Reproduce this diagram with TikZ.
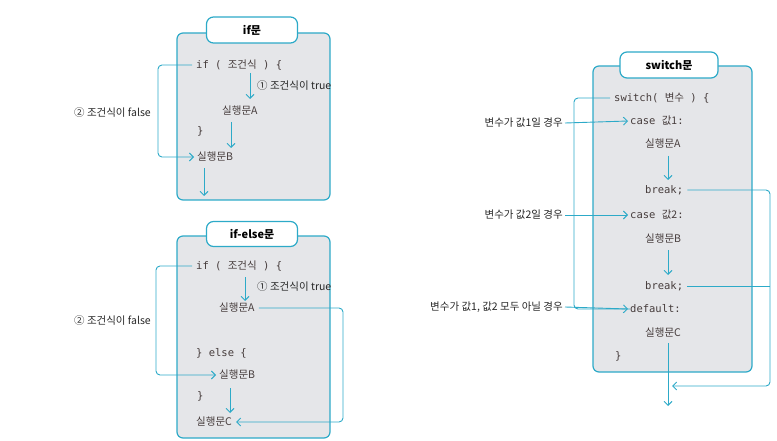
\documentclass[tikz,border=0pt]{standalone}
\usepackage{fontspec}
\setmainfont{Noto Sans CJK KR}
\newfontfamily\codefont{DejaVu Sans Mono}
\newfontfamily\krfont{Noto Sans CJK KR}
\usetikzlibrary{arrows.meta,positioning,calc}
\definecolor{flowColor}{RGB}{45,170,200}
\definecolor{boxColor}{RGB}{229,230,233}
\definecolor{codeColor}{RGB}{70,60,60}
\newcommand{\kr}[1]{{\krfont #1}}
\tikzset{panel/.style={draw=flowColor, fill=boxColor, line width=1.2pt, rounded corners=6pt}}
\tikzset{tab/.style={draw=flowColor, fill=white, line width=1.2pt, rounded corners=7pt, font=\bfseries\fontsize{11}{13}\selectfont}}
\tikzset{code/.style={anchor=west, inner sep=0pt, text=codeColor, font=\codefont\fontsize{10.5}{12}\selectfont}}
\tikzset{label/.style={inner sep=0pt, text=black!85, font=\fontsize{10.5}{12}\selectfont}}
\tikzstyle{flow} = [draw=flowColor, line width=0.9pt, rounded corners=4pt, -{Straight Barb[length=4pt,width=8pt]}]
\tikzstyle{line} = [draw=flowColor, line width=0.9pt, rounded corners=4pt]

\begin{document}
\begin{tikzpicture}[x=1pt,y=-1pt]
	\useasboundingbox (0,0) rectangle (777,441);

	% if
	\draw [panel] (177,33) rectangle (330,200);
	\node (iftab) [tab, minimum width=91pt, minimum height=26pt] at (252,30) {if문};
	\node (ifcond) [code] at (196,65) {if ( \kr{조건식} ) \{};
	\node (iftrue) [label, anchor=west] at (257,86) {① 조건식이 true};
	\node (ifA) [code] at (222,111) {\kr{실행문A}};
	\node (ifclose) [code] at (197,131) {\}};
	\node (ifB) [code] at (197,157) {\kr{실행문B}};
	\node (iffalse) [label, anchor=east] at (151,113) {② 조건식이 false};
	\coordinate (ifout) at (204,196);

	\draw [flow] (250,73) -- (250,99);
	\draw [flow] (231,122) -- (231,148);
	\draw [flow] (204,168) -- (ifout);
	\draw [flow] ([xshift=-4pt]ifcond.west) -- (158,65) -- (158,157) -- ([xshift=-3pt]ifB.west);

	% if-else
	\draw [panel] (177,236) rectangle (330,438);
	\node (elsetab) [tab, minimum width=91pt, minimum height=25pt] at (252,234) {if-else문};
	\node (elsecond) [code] at (196,266) {if ( \kr{조건식} ) \{};
	\node (elsetrue) [label, anchor=west] at (257,287) {① 조건식이 true};
	\node (elseA) [code] at (219,308) {\kr{실행문A}};
	\node (elseword) [code] at (196,353) {\} else \{};
	\node (elseB) [code] at (219,375) {\kr{실행문B}};
	\node (elseclose) [code] at (197,396) {\}};
	\node (elseC) [code] at (196,422) {\kr{실행문C}};
	\node (elsefalse) [label, anchor=east] at (151,321) {② 조건식이 false};

	\draw [flow] (245,277) -- (245,301);
	\draw [flow] (230,388) -- (230,413);
	\draw [flow] ([xshift=-4pt]elsecond.west) -- (156,266) -- (156,375) -- ([xshift=-3pt]elseB.west);
	\draw [flow] ([xshift=4pt]elseA.east) -- (343,308) -- (343,422) -- ([xshift=4pt]elseC.east);

	% switch
	\draw [panel] (593,66) rectangle (752,372);
	\node (swtab) [tab, minimum width=98pt, minimum height=26pt] at (669,65) {switch문};
	\node (swhead) [code] at (614,98) {switch( \kr{변수} ) \{};
	\node (case1) [code] at (630,121) {case \kr{값1}:};
	\node (swA) [code] at (645,144) {\kr{실행문A}};
	\node (brk1) [code] at (645,190) {break;};
	\node (case2) [code] at (630,215) {case \kr{값2}:};
	\node (swB) [code] at (645,239) {\kr{실행문B}};
	\node (brk2) [code] at (645,286) {break;};
	\node (dflt) [code] at (630,309) {default:};
	\node (swC) [code] at (645,333) {\kr{실행문C}};
	\node (swclose) [code] at (615,356) {\}};
	\node (val1) [label, anchor=east] at (563,123) {변수가 값1일 경우};
	\node (val2) [label, anchor=east] at (563,215) {변수가 값2일 경우};
	\node (valnone) [label, anchor=east] at (563,307) {변수가 값1, 값2 모두 아닐 경우};
	\coordinate (swout) at (668,406);
	\coordinate (swjoin) at (672,386);

	\draw [flow] (668,156) -- (668,180);
	\draw [flow] (668,250) -- (668,275);
	\draw [flow] (668,343) -- (swout);
	\draw [line] ([xshift=-4pt]swhead.west) -- (574,98) -- (574,309) -- (dflt.west);
	\draw [flow] ([xshift=2pt]val1.east) -- ([xshift=-2pt]case1.west);
	\draw [flow] ([xshift=2pt]val2.east) -- ([xshift=-2pt]case2.west);
	\draw [flow] ([xshift=2pt]valnone.east) -- ([xshift=-2pt]dflt.west);
	\draw [flow] ([xshift=4pt]brk1.east) -- (770,190) -- (770,386) -- (swjoin);
	\draw [line] ([xshift=4pt]brk2.east) -- (770,286);
\end{tikzpicture}
\end{document}
